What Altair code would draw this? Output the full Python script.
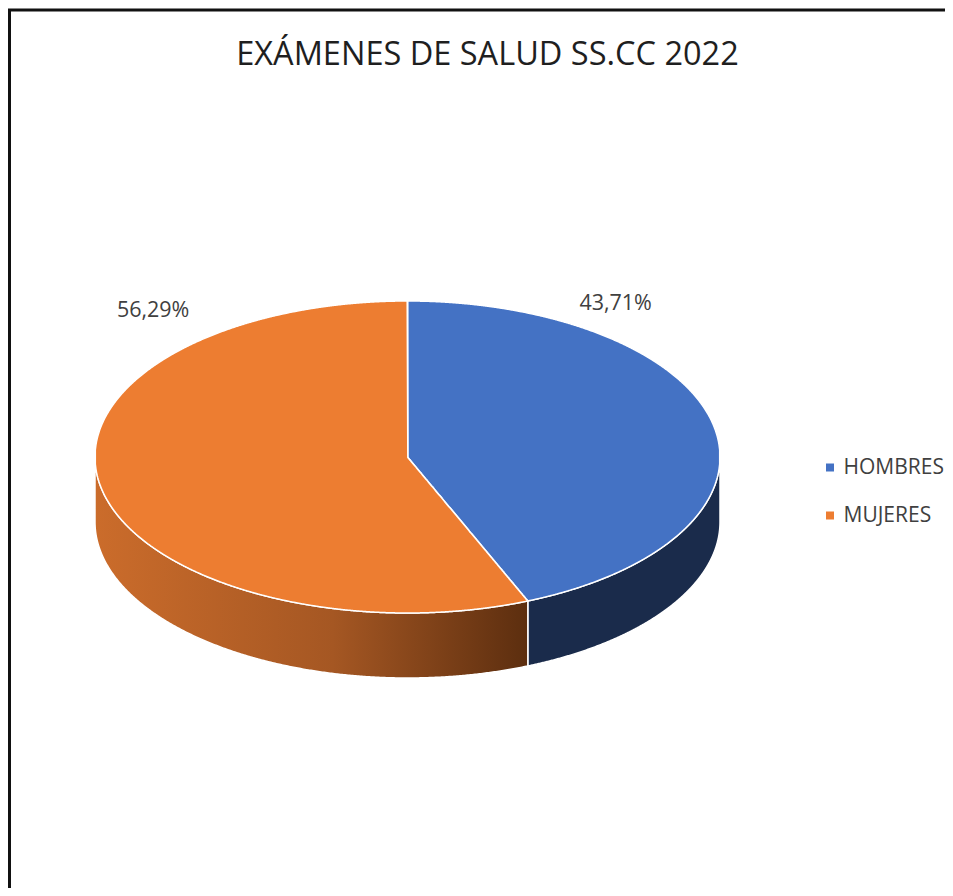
import altair as alt
import numpy as np
import pandas as pd

# ---------------- data ----------------
categories = ["HOMBRES", "MUJERES"]
percentages = [43.71, 56.29]
top_colors = ["#4472C4", "#ED7D31"]
title_text = "EXÁMENES DE SALUD SS.CC 2022"

# ---------------- layout / style ----------------
W, H = 945, 888            # plot area (the framed box)
PAD_L, PAD_T = 1.5, 2
CX, CY = 398.0, 447.0      # pie centre in plot pixels
R = 312.5                  # horizontal radius in pixels
TILT = 156 / 312.5         # vertical squash of the top face
DEPTH = 65 / 312.5         # thickness of the pie
X_DOM = [-CX / R, (W - CX) / R]
Y_DOM = [-(H - CY) / R, CY / R]
LABEL_POS = {"HOMBRES": (0.666, 0.49), "MUJERES": (-0.814, 0.468)}
SIDE_BLUE = "#1a2b4b"
SIDE_ORANGE = alt.Gradient(
    gradient="linear",
    stops=[alt.GradientStop(color="#cb6c2b", offset=0),
           alt.GradientStop(color="#a55723", offset=0.55),
           alt.GradientStop(color="#5c2e0f", offset=1)],
    x1=0, x2=1, y1=0, y2=0,
)
FONT = "Open Sans"

# ---------------- geometry built from the values ----------------
bounds = []
start = 0.0
for cat, p in zip(categories, percentages):
    end = start + p / 100 * 360
    bounds.append((cat, start, end))
    start = end

n = 1000
xs = (np.arange(n) + 0.5) / n * 2 - 1
top_rows = []
for cat, a, b in bounds:
    for x in xs:
        h = np.sqrt(1 - x * x)
        ys = np.linspace(-h, h, 1201)
        th = np.degrees(np.arctan2(x, ys)) % 360
        m = (th >= a) & (th <= b)
        if m.any():
            top_rows.append(dict(cat=cat, x=x, y=ys[m].max() * TILT,
                                 y2=ys[m].min() * TILT))
top_df = pd.DataFrame(top_rows)

side_rows = []
for cat, a, b in bounds:
    lo, hi = max(a, 90), min(b, 270)
    if lo < hi:
        th = np.radians(np.linspace(lo, hi, 400))
        for t in th:
            yt = np.cos(t) * TILT
            side_rows.append(dict(cat=cat, x=np.sin(t), y=yt, y2=yt - DEPTH))
side_df = pd.DataFrame(side_rows)

label_df = pd.DataFrame({
    "cat": categories,
    "label": [f"{p:.2f}%".replace(".", ",") for p in percentages],
    "x": [LABEL_POS[c][0] for c in categories],
    "y": [LABEL_POS[c][1] for c in categories],
})

xs_enc = alt.X("x:Q", scale=alt.Scale(domain=X_DOM, nice=False, zero=False), axis=None)
ys_enc = alt.Y("y:Q", scale=alt.Scale(domain=Y_DOM, nice=False, zero=False), axis=None, stack=None)

side_h = alt.Chart(side_df).transform_filter(alt.datum.cat == "HOMBRES").mark_area(
    color=SIDE_BLUE, stroke="white", strokeWidth=1.5
).encode(x=xs_enc, y=ys_enc, y2="y2:Q")

side_m = alt.Chart(side_df).transform_filter(alt.datum.cat == "MUJERES").mark_area(
    color=SIDE_ORANGE, stroke="white", strokeWidth=1.5
).encode(x=xs_enc, y=ys_enc, y2="y2:Q")

top = alt.Chart(top_df).mark_area(stroke="white", strokeWidth=1.5, opacity=1).encode(
    x=xs_enc,
    y=ys_enc,
    y2="y2:Q",
    color=alt.Color(
        "cat:N",
        scale=alt.Scale(domain=categories, range=top_colors),
        legend=alt.Legend(
            title=None, orient="none", legendX=810, legendY=447,
            symbolType="square", symbolSize=64, symbolStrokeWidth=0,
            labelFont=FONT, labelFontSize=21, labelColor="#404040",
            labelOffset=3, rowPadding=26,
        ),
    ),
    detail="cat:N",
)

labels = alt.Chart(label_df).mark_text(
    font=FONT, fontSize=21.5, color="#404040", align="center", baseline="middle"
).encode(x=xs_enc, y=ys_enc, text="label:N")

chart = alt.layer(side_h, side_m, top, labels).properties(
    width=W, height=H,
    title=alt.TitleParams(
        text=title_text, font=FONT, fontSize=32.5, fontWeight="normal",
        color="#1f1f1f", anchor="middle", offset=-87, baseline="alphabetic", dx=5.5,
    ),
    autosize=alt.AutoSizeParams(type="none"),
    padding={"left": PAD_L, "top": PAD_T, "right": -9.5, "bottom": -10},
).configure(background="white").configure_view(stroke="#111111", strokeWidth=3)

chart.save("out.html", embed_options={"renderer": "svg", "actions": False})
